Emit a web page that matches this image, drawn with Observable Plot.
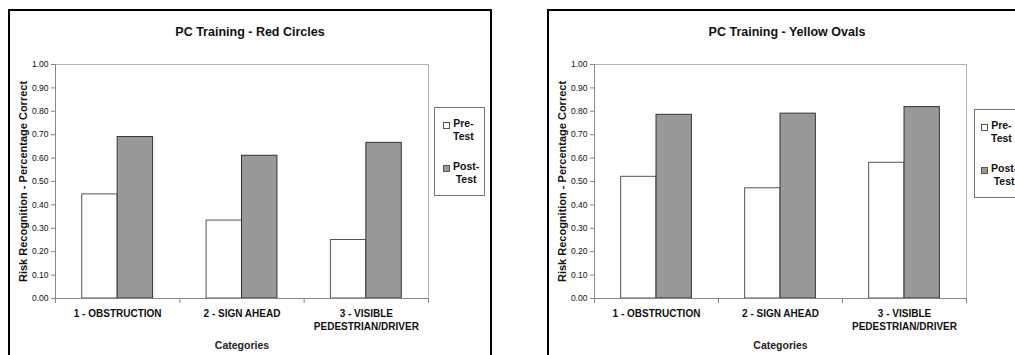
<!DOCTYPE html>
<html><head><meta charset="utf-8">
<script src="https://cdn.jsdelivr.net/npm/d3@7"></script>
<script src="https://cdn.jsdelivr.net/npm/@observablehq/plot@0.6"></script>
<style>
body{margin:0;background:#fff;font-family:"Liberation Sans",Arial,sans-serif;}
#wrap{position:relative;width:1015px;height:355px;overflow:hidden;background:#fff;}
.panel{position:absolute;top:9px;height:360px;border:2px solid #000;box-sizing:border-box;}
.title{position:absolute;top:24px;width:300px;text-align:center;font-weight:bold;font-size:12.5px;line-height:16px;color:#111;}
.legend{position:absolute;width:51px;height:89px;border:1px solid #777;box-sizing:border-box;background:#fff;font-weight:bold;font-size:10.5px;line-height:12.5px;color:#111;}
.legend .sw{position:absolute;width:5px;height:5px;border:1px solid #555;}
.legend .lb{position:absolute;text-align:center;}
.chart{position:absolute;top:0;}
</style></head><body><div id="wrap"></div>
<script>
// ---- data ----
const categories = ["1 - OBSTRUCTION", "2 - SIGN AHEAD", "3 - VISIBLE\nPEDESTRIAN/DRIVER"];
const series = ["Pre-Test", "Post-Test"];
const yTicks = [0, 0.1, 0.2, 0.3, 0.4, 0.5, 0.6, 0.7, 0.8, 0.9, 1.0];
const redTitle = "PC Training - Red Circles";
const redPre = [0.445, 0.333, 0.250];
const redPost = [0.690, 0.610, 0.665];
const yellowTitle = "PC Training - Yellow Ovals";
const yellowPre = [0.520, 0.471, 0.580];
const yellowPost = [0.785, 0.790, 0.818];
const yLabel = "Risk Recognition - Percentage Correct";
const xLabel = "Categories";

// ---- styles ----
const fills = ["#ffffff", "#999999"];
const strokes = ["#555555", "#333333"];
const groupStart = 0.215, barW = 0.285;

const wrap = document.getElementById("wrap");

function panel(opts) {
  const {title, pre, post, svgLeft, marginLeft, marginRight, frameLeft, frameWidth, titleCenter, legendLeft, legendTop, swLeft, lbLeft} = opts;
  const fr = document.createElement("div");
  fr.className = "panel";
  fr.style.left = frameLeft + "px";
  fr.style.width = frameWidth + "px";
  wrap.appendChild(fr);

  const rows = categories.map((c, i) => ({i, cat: c, pre: pre[i], post: post[i]}));
  const bar = (j, key) => Plot.rectY(rows, {
    x1: d => d.i + groupStart + j * barW,
    x2: d => d.i + groupStart + (j + 1) * barW,
    y: key,
    fill: fills[j], stroke: strokes[j], strokeWidth: 1
  });

  const chart = Plot.plot({
    width: 500, height: 355,
    marginLeft, marginRight, marginTop: 64, marginBottom: 57,
    style: {background: "transparent", fontFamily: "'Liberation Sans', Arial, sans-serif", color: "#111"},
    x: {domain: [0, categories.length], axis: null},
    y: {domain: [0, 1], axis: null},
    marks: [
      Plot.frame({stroke: "#b4b4b4"}),
      bar(0, "pre"),
      bar(1, "post"),
      Plot.ruleX([0], {stroke: "#888"}),
      Plot.ruleY([0], {stroke: "#888"}),
      Plot.axisX(d3.range(categories.length + 1), {tickSize: 5, tickFormat: () => "", stroke: "#888"}),
      Plot.axisY(yTicks, {tickSize: 4, tickPadding: 3, tickFormat: d3.format(".2f"), fontSize: 8.5, stroke: "#888"}),
      Plot.text(categories, {x: (d, i) => i + 0.5, frameAnchor: "bottom", dy: 9, lineAnchor: "top", text: d => d,
        fontWeight: "bold", fontSize: 10, lineHeight: 1.3, fill: "#111"}),
      Plot.text([xLabel], {frameAnchor: "bottom", dy: 47, lineAnchor: "middle", text: d => d,
        fontWeight: "bold", fontSize: 10.5, fill: "#222"}),
      Plot.text([yLabel], {frameAnchor: "left", rotate: -90, dx: -32, textAnchor: "middle", lineAnchor: "middle", text: d => d,
        fontWeight: "bold", fontSize: 11, fill: "#111"})
    ]
  });
  chart.classList.add("chart");
  chart.style.left = svgLeft + "px";
  wrap.appendChild(chart);

  const t = document.createElement("div");
  t.className = "title";
  t.textContent = title;
  t.style.left = (titleCenter - 150) + "px";
  wrap.appendChild(t);

  const lg = document.createElement("div");
  lg.className = "legend";
  lg.style.left = legendLeft + "px";
  lg.style.top = legendTop + "px";
  series.forEach((s, j) => {
    const sw = document.createElement("div");
    sw.className = "sw";
    sw.style.background = fills[j];
    sw.style.left = swLeft + "px";
    sw.style.top = (14 + j * 43) + "px";
    lg.appendChild(sw);
    const lb = document.createElement("div");
    lb.className = "lb";
    lb.style.left = lbLeft + "px";
    lb.style.top = (9 + j * 43) + "px";
    lb.innerHTML = s.replace("-", "-<br>");
    lg.appendChild(lb);
  });
  wrap.appendChild(lg);
}

panel({title: redTitle, pre: redPre, post: redPost, svgLeft: 0, marginLeft: 55, marginRight: 72,
  frameLeft: 8, frameWidth: 484, titleCenter: 250, legendLeft: 434, legendTop: 107, swLeft: 8, lbLeft: 18});
panel({title: yellowTitle, pre: yellowPre, post: yellowPost, svgLeft: 515, marginLeft: 79, marginRight: 49,
  frameLeft: 547, frameWidth: 500, titleCenter: 787, legendLeft: 974, legendTop: 109, swLeft: 6, lbLeft: 16});
</script></body></html>
